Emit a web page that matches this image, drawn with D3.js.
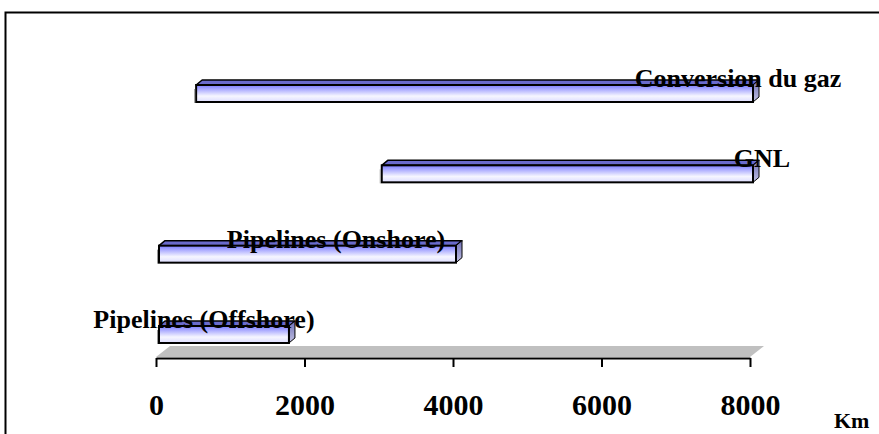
<!DOCTYPE html>
<html>
<head>
<meta charset="utf-8">
<script src="https://cdn.jsdelivr.net/npm/d3@7"></script>
<style>
  body { margin: 0; background: #fff; overflow: hidden; }
  text { font-family: "Times New Roman", "Liberation Serif", serif; font-weight: bold; fill: #000; }
</style>
</head>
<body>
<svg id="chart"></svg>
<script>
// data
var categories = ["Conversion du gaz", "GNL", "Pipelines (Onshore)", "Pipelines (Offshore)"];
var starts = [500, 3000, 0, 0];
var ends = [8000, 8000, 4000, 1750];
var tickValues = [0, 2000, 4000, 6000, 8000];
var unitLabel = "Km";

// label shift (px) from the bar end, picked by eye
var labelDx = [-15, 9, -120, -85];

var width = 879, height = 434;
var depth = {x: 6, y: -5};      // bar 3d depth
var floorDepth = {x: 14, y: -11};
var barH = 17;

var svg = d3.select("#chart").attr("width", width).attr("height", height);

var defs = svg.append("defs");
var grad = defs.append("linearGradient").attr("id", "front")
    .attr("x1", 0).attr("y1", 0).attr("x2", 0).attr("y2", 1);
grad.append("stop").attr("offset", "0%").attr("stop-color", "#7c7cff");
grad.append("stop").attr("offset", "65%").attr("stop-color", "#f6f6ff");
grad.append("stop").attr("offset", "100%").attr("stop-color", "#dcdcff");

var side = defs.append("linearGradient").attr("id", "side")
    .attr("x1", 0).attr("y1", 0).attr("x2", 0).attr("y2", 1);
side.append("stop").attr("offset", "0%").attr("stop-color", "#7070b8");
side.append("stop").attr("offset", "100%").attr("stop-color", "#c0c0e0");

// frame
svg.append("rect")
    .attr("x", 5.5).attr("y", 12.5)
    .attr("width", 1000).attr("height", 1000)
    .attr("fill", "none").attr("stroke", "#000").attr("stroke-width", 2);

var x = d3.scaleLinear().domain([0, 8000]).range([156, 750]);
var y = d3.scalePoint().domain(categories).range([93.5, 334.5]);

var axisY = 358;

// floor
var x0 = x(0), x1 = x(8000);
svg.append("path")
    .attr("d", "M" + x0 + "," + (axisY - 1) +
               "L" + (x0 + floorDepth.x) + "," + (axisY - 1 + floorDepth.y) +
               "L" + (x1 + floorDepth.x) + "," + (axisY - 1 + floorDepth.y) +
               "L" + x1 + "," + (axisY - 1) + "Z")
    .attr("fill", "#c0c0c0");

// axis
var axis = svg.append("g")
    .attr("transform", "translate(0," + axisY + ")")
    .call(d3.axisBottom(x).tickValues(tickValues).tickFormat(d3.format("d"))
      .tickSize(9).tickPadding(27).tickSizeOuter(0));
axis.select(".domain").attr("stroke", "#000").attr("stroke-width", 2);
axis.selectAll(".tick line").attr("stroke", "#000").attr("stroke-width", 2);
axis.selectAll(".tick text")
    .attr("font-family", "Times New Roman, Liberation Serif, serif")
    .attr("font-weight", "bold")
    .attr("font-size", 30)
    .attr("fill", "#000");

svg.append("text")
    .attr("x", x(8000) + 84).attr("y", 428)
    .attr("font-size", 22)
    .text(unitLabel);

// bars
var rows = categories.map(function(c, i) {
  return {name: c, start: starts[i], end: ends[i], dx: labelDx[i]};
});

var bar = svg.selectAll(".bar").data(rows).enter().append("g").attr("class", "bar");

function bx0(d) { return x(d.start) + 3; }
function bx1(d) { return x(d.end) + 3; }
function by(d) { return y(d.name) - barH / 2; }

// top face
bar.append("path")
    .attr("d", function(d) {
      var a = bx0(d), b = bx1(d), t = by(d);
      return "M" + a + "," + t + "L" + (a + depth.x) + "," + (t + depth.y) +
             "L" + (b + depth.x) + "," + (t + depth.y) + "L" + b + "," + t + "Z";
    })
    .attr("fill", "#6a6acc").attr("stroke", "#000").attr("stroke-width", 1.5)
    .attr("stroke-linejoin", "round");

// side face
bar.append("path")
    .attr("d", function(d) {
      var b = bx1(d), t = by(d);
      return "M" + b + "," + t + "L" + (b + depth.x) + "," + (t + depth.y) +
             "L" + (b + depth.x) + "," + (t + barH + depth.y) + "L" + b + "," + (t + barH) + "Z";
    })
    .attr("fill", "url(#side)").attr("stroke", "#000").attr("stroke-width", 1)
    .attr("stroke-linejoin", "round");

// front face
bar.append("rect")
    .attr("x", bx0).attr("y", by)
    .attr("width", function(d) { return bx1(d) - bx0(d); })
    .attr("height", barH)
    .attr("fill", "url(#front)").attr("stroke", "#000").attr("stroke-width", 2);

// slight shadow on the left edge
bar.append("line")
    .attr("x1", function(d) { return bx0(d) - 1.5; }).attr("x2", function(d) { return bx0(d) - 1.5; })
    .attr("y1", function(d) { return by(d) + 4; }).attr("y2", function(d) { return by(d) + barH + 1; })
    .attr("stroke", "#999").attr("stroke-width", 1);

// labels
bar.append("text")
    .attr("x", function(d) { return bx1(d) + d.dx; })
    .attr("y", function(d) { return by(d) + 2; })
    .attr("text-anchor", "middle")
    .attr("font-size", 26)
    .text(function(d) { return d.name; });
</script>
</body>
</html>
